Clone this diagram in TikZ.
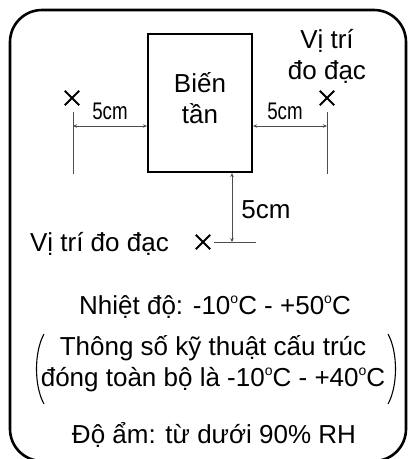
\documentclass[tikz,border=0pt]{standalone}
\usepackage{fontspec}
\setmainfont{Liberation Sans}
\usetikzlibrary{arrows.meta,positioning,shapes.misc}

\newcommand{\degc}{\raisebox{11pt}{\fontsize{14}{14}\selectfont o}C}

\begin{document}
\begin{tikzpicture}[x=1pt, y=-1pt, >={Stealth[length=4pt,width=3.5pt]},
  txt/.style={font=\fontsize{26}{31}\selectfont, align=center, inner sep=0pt},
  small/.style={font=\fontsize{24}{24}\selectfont, inner sep=0pt},
  xm/.style={cross out, draw, line width=1.9pt, minimum size=12.5pt, inner sep=0pt},
  dim/.style={<->, black!70, line width=0.7pt},
  rule/.style={black!70, line width=0.7pt}]
  \useasboundingbox (0,0) rectangle (409,459);
  \draw[line width=2.6pt, rounded corners=32pt] (10,10) rectangle (406,461);

  \node[draw, line width=2.2pt, minimum width=104pt, minimum height=138pt, inner sep=0pt] (inv) at (200,103) {};
  \node[txt] (lbl) at (200,98) {Biến\\tần};

  \node[xm] (xl) at (72,98) {};
  \node[xm] (xr) at (327,98) {};
  \node[xm] (xb) at (203,242) {};

  \node[txt] (pr) at (327,56) {Vị trí\\đo đạc};
  \node[txt, anchor=east] (pb) at (169,244) {Vị trí đo đạc};

  % left and right rulers
  \coordinate (lt) at (73,112);
  \coordinate (lb) at (73,174);
  \coordinate (rt) at (327,112);
  \coordinate (rb) at (327,174);
  \draw[rule] (lt) -- (lb);
  \draw[rule] (rt) -- (rb);
  \coordinate (la) at (73,126);
  \coordinate (ra) at (327,126);
  \draw[dim] (la) -- (la -| inv.west);
  \draw[dim] (ra -| inv.east) -- (ra);
  \node[small] (dl) at (110,111) {\scalebox{0.78}[1]{5cm}};
  \node[small] (dr) at (285,111) {\scalebox{0.78}[1]{5cm}};

  % bottom ruler
  \coordinate (bb) at (232,242);
  \coordinate (be) at (256,242);
  \draw[rule] (xb.east) ++(4pt,0) -- (be);
  \draw[dim] (bb |- inv.south) -- (bb);
  \node[txt] (db) at (266,210) {5cm};

  \node[txt] (t1) at (215,307) {Nhiệt độ: -10\degc{} - +50\degc};
  \node[txt] (t2) at (213,364) {Thông số kỹ thuật cấu trúc\\đóng toàn bộ là -10\degc{} - +40\degc};
  \draw[line width=1.1pt] (44,334) .. controls (34,352) and (34,386) .. (44,404);
  \draw[line width=1.1pt] (388,334) .. controls (398,352) and (398,386) .. (388,404);
  \node[txt] (t3) at (214,435) {Độ ẩm: từ dưới 90\% RH};
\end{tikzpicture}
\end{document}
